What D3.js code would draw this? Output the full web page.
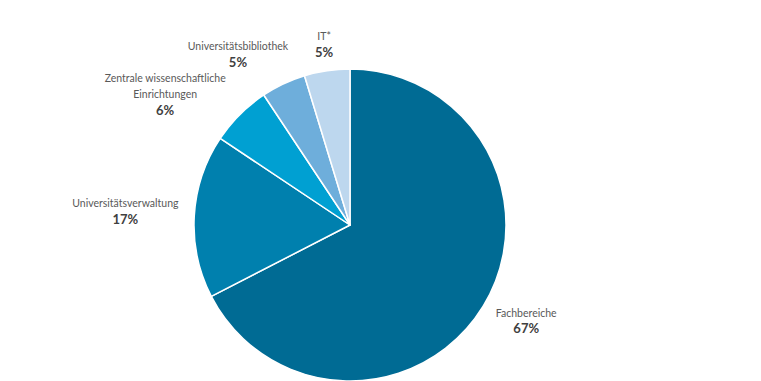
<!DOCTYPE html>
<html>
<head>
<meta charset="utf-8">
<script src="https://cdn.jsdelivr.net/npm/d3@7"></script>
<style>
  html, body { margin: 0; padding: 0; background: #ffffff; }
  svg { display: block; }
</style>
</head>
<body>
<svg id="chart" width="761" height="381"></svg>
<script>
// ---- data ----
const categories = ["Fachbereiche", "Universitätsverwaltung", "Zentrale wissenschaftliche Einrichtungen", "Universitätsbibliothek", "IT*"];
const labelLines = [["Fachbereiche"], ["Universitätsverwaltung"], ["Zentrale wissenschaftliche", "Einrichtungen"], ["Universitätsbibliothek"], ["IT*"]];
const shares = [67.3, 16.9, 6.3, 4.6, 4.7];
const colors = ["#006b94", "#0080ae", "#00a0d2", "#6eaedb", "#bdd7ee"];

// ---- layout (not data) ----
const W = 761, H = 381;
const cx = 350, cy = 225, R = 156;
const labelGap = 10;
const lineH = 16;
const labelNudge = [[6, -8], [-5, -1], [-27, 28], [-28, 8], [1, 0]];

const svg = d3.select("#chart");
const g = svg.append("g").attr("transform", `translate(${cx},${cy})`);

const pie = d3.pie().sort(null).value(d => d)(shares);
const arc = d3.arc().innerRadius(0).outerRadius(R);

g.selectAll("path.slice")
  .data(pie)
  .join("path")
  .attr("class", "slice")
  .attr("d", arc)
  .attr("fill", (d, i) => colors[i])
  .attr("stroke", "#ffffff")
  .attr("stroke-width", 1.5)
  .attr("stroke-linejoin", "round");

const total = d3.sum(shares);
const fmt = v => Math.round(v / total * 100) + "%";

const labels = g.selectAll("g.lbl")
  .data(pie)
  .join("g")
  .attr("class", "lbl");

labels.each(function(d, i) {
  const sel = d3.select(this);
  const lines = labelLines[i];
  const n = lines.length + 1;
  lines.forEach((t, k) => {
    sel.append("text")
      .attr("x", 0)
      .attr("y", (k - (n - 1) / 2) * lineH)
      .attr("dy", "0.35em")
      .attr("text-anchor", "middle")
      .style("font-family", "Lato, 'Open Sans', sans-serif")
      .style("font-size", "10.5px")
      .attr("fill", "#595959")
      .text(t);
  });
  sel.append("text")
    .attr("x", 0)
    .attr("y", ((n - 1) - (n - 1) / 2) * lineH)
    .attr("dy", "0.35em")
    .attr("text-anchor", "middle")
    .style("font-family", "Lato, 'Open Sans', sans-serif")
    .style("font-size", "13px")
    .style("font-weight", "bold")
    .attr("fill", "#404040")
    .text(fmt(d.value));

  // place block outside the pie along the mid angle
  const bb = this.getBBox();
  const mid = (d.startAngle + d.endAngle) / 2;
  const ux = Math.sin(mid), uy = -Math.cos(mid);
  const distAt = t => {
    const x0 = t * ux + bb.x, x1 = t * ux + bb.x + bb.width;
    const y0 = t * uy + bb.y, y1 = t * uy + bb.y + bb.height;
    const nx = Math.max(x0, Math.min(0, x1));
    const ny = Math.max(y0, Math.min(0, y1));
    return Math.hypot(nx, ny);
  };
  let lo = 0, hi = 400;
  for (let k = 0; k < 40; k++) {
    const m = (lo + hi) / 2;
    if (distAt(m) < R + labelGap) lo = m; else hi = m;
  }
  const px = hi * ux + labelNudge[i][0];
  const py = hi * uy + labelNudge[i][1];
  sel.attr("transform", `translate(${px},${py})`);
});
</script>
</body>
</html>
